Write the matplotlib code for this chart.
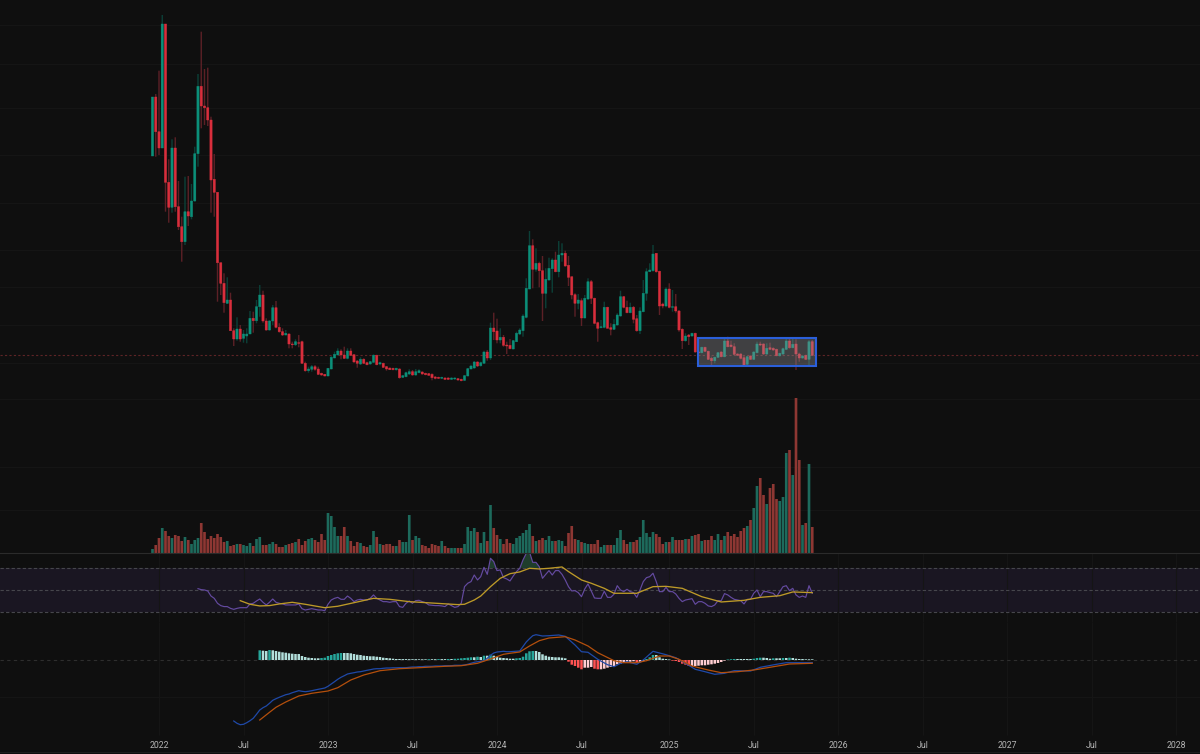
import numpy as np
import pandas as pd
import matplotlib
matplotlib.use('Agg')
import matplotlib.pyplot as plt
import matplotlib.dates as mdates
from matplotlib.patches import Rectangle

# weekly candles, price scale is unlabelled in the source so values are in chart units
opens = [244,303,268.3,252,376,217.7,192.7,252,193.3,173.3,158.3,188.3,183.3,199,246.3,313.7,294,292.3,280,220.7,
         207.7,137.3,116.7,96.7,100,69.3,61,71,61.7,64,66,81.7,79.3,93.3,105,79,70,79,92.3,72.7,
         68.3,65,66,56,55.3,57.3,58.3,36.7,29.3,30.7,33.3,31,26.7,25.7,24,31,42,45,49,45,
         41.7,49,45.3,39,36,40.7,37.3,36,37.7,44.7,36,36.7,33.3,32,31.7,30.3,31,22.7,23.3,26,
         28.3,25,27.3,28,26.7,26.3,25.7,23,22.7,21.7,22,22,20.7,21,21.3,20.7,19.7,24,31,32,
         38,34.3,36.7,48,42,72,69,60,62.7,55,54.7,51,58.3,66,69.3,82.7,111,154.3,130.7,136.7,
         129.3,106.7,120,131.3,140,128.3,145,146.7,134.7,123.3,105.3,96.7,99.3,82,101,118.3,101.7,77.3,72.3,72.7,
         92.7,72.3,70.7,75,84,103.3,92.7,87.3,92.7,81.3,69.3,88.3,106.7,128.3,129.3,146.7,128.7,96,94,111,
         92.7,93.3,89,70.7,59.3,65,64,66.7,48,47.3,52.7,48.7,41.7,39.3,42.7,48,43.3,59,55,53.3,
         46,46,42.3,35.7,44,40.7,47.3,56,56,46,52.3,51.7,50.7,44.3,46,50.7,59,52.3,56,46,
         42,44.7,40.7,58.3]
highs = [303,306,329.3,385,376,240.7,260.7,262.7,219,183.3,223.3,224,216,253.3,326,368.3,331,332.3,283.3,246,
         207.7,137.3,126.7,122.7,107.3,71.7,82.7,75,70,71.7,89,88.3,100,115,109.3,81.7,80,95,99,76.7,
         71.7,70,66.7,58.3,60.7,65,59.3,38.3,33.3,35,35,33.3,27.3,26,32,44,48.3,51.7,50.7,53.3,
         51.7,51.7,45.7,40,42.7,41.7,38.3,39,45.7,45.3,38.3,37.3,34,32.3,32.3,32.3,31.7,25,28.3,30.7,
         30,31,30.7,28.7,27.3,27,26.7,24,23.3,23.3,22.7,22.7,22.7,22.7,22,21.3,25,32,35.3,39,
         38.7,38.3,49.3,50,77.3,87.3,81.3,71.7,65,58.3,61,60,68.3,71.7,85.7,121.7,169,160.7,151.7,138.3,
         144,131.7,142.3,141.7,148.3,159,156.7,149.3,144,123.3,106.7,106,101.7,105,121.7,120,102.3,78.3,80,98.3,
         93.3,76.7,80.7,86.7,109.3,104,99.3,97.3,94,85,92.7,120,131.7,136.7,155,146.7,129.3,97.3,112.7,116.7,
         110,106,90,71.7,66.7,66,67.3,67.3,49,53.3,53.3,49.3,43.3,43.3,48,48.7,62.3,63.3,59.3,56.7,
         46.7,46.7,44,44,44.7,48.7,58.3,58.3,56.7,56.7,57.3,52.7,51.3,47.3,52.3,61.7,61.3,61.3,60.7,47.3,
         44.7,45.3,60,60]
lows = [244,243.3,245,252,188.3,177.3,187.3,188.3,170,138.3,155,174,180.7,198.3,233.3,271.7,275,274,187.3,183.3,
        98.3,105,87.3,96,69.3,54,59.3,58.3,57.3,56.7,66,67.3,76.7,83.3,77.3,69.3,69.3,75,71.7,67.3,
        64,64.7,51.7,51.7,54,52.7,36,28.3,27.3,28.3,29.3,25,24.3,23.7,23.7,30.7,41.7,44.7,40.7,41,
        40.7,44,37.3,32.3,35,36,34.7,35.3,37.3,34.7,34.7,32,29.3,30,29.7,29.3,21.3,22,22.7,25,
        24.3,24.3,26.7,25.3,24.7,24.3,19.7,20.7,21,21,20,20,20,20.3,19.3,18.7,19,23.7,30.7,31.3,
        33,33.3,36.3,39.3,40,60,56.7,56.7,53.3,46,50.7,50.7,58,65,63.3,81.7,110.7,111.7,128.3,112.7,
        79,91.7,119.3,107.3,127.7,122.7,138.3,133.3,114,100.7,83.3,90.7,74,81.7,100,96,75.7,58.3,71.7,71.7,
        71.7,64.7,70,74.3,83.3,91.7,86.7,86.7,76.7,68.3,66,87.7,99.3,128.3,128.3,127.3,85,91.7,92.7,91.7,
        88.3,87.3,68.3,51,58.3,55,63.3,47.3,46.7,46.7,48,40,35,36.7,42,42.7,42.7,52.7,52.7,45,
        44,40.7,34.3,35,40,40,46.7,54,45,45,50,49.3,43.7,43.3,45,50,51.3,51.7,30,38.3,
        41.3,40,33.3,44]
closes = [303,268.3,252,376,217.7,192.7,252,193.3,173.3,158.3,188.3,184,199,246.3,313.7,294,292.3,280,220,207.7,
          137.3,116.7,97.3,100,69.3,61,71,61,66,66,81.7,79.3,93.3,105,79,70,79,92.3,72.7,68.3,
          65,66.7,56,55.3,58.3,56.7,36.7,29.3,31,33.3,30.7,25.7,25,24,31.7,42.7,45.7,49,45,41.7,
          49,44.7,38,36.7,40.7,36.7,35.3,38.3,44.7,35.3,37.3,32.7,31,30.3,30.3,31.7,22.3,24.3,27.3,28.3,
          25,28.3,29.3,26,25.3,24.7,22.3,21.7,21.7,22.7,20.7,20.7,22,22,20,19.3,24.3,31.3,34,38,
          34,37.3,48,42,72,68.3,60,62.7,54.7,54,51.3,59.3,66.7,70,84,111.7,154.3,130.7,136.7,129.3,
          106.7,120.7,131.7,140,128.3,145,146.7,134,122.7,105,96.7,100,82,101.7,118.3,101.7,76.7,71.7,73.3,92.7,
          71.7,70.7,75.7,85,103.3,92.7,87.3,92.7,80.7,69.3,89,106.7,128.3,130,146,128.3,94,94,111,92.7,
          93.3,89,70,59.3,64,63.3,66.7,48,47.3,52.7,48.7,40.7,39.3,42.7,47.3,43.3,59,53.3,53.3,45.7,
          44.7,41.7,35,43.3,40.7,48,56,55,46,51.7,50.7,50,44.3,46.7,51.3,59,52.3,55.7,46,42,
          44,40.7,58.3,44.7]
volumes = [4,8,15,25,22,17,15,18,17,12,16,13,9,13,15,30,21,14,17,15,
           19,16,11,12,7,8,9,9,8,7,10,7,14,16,8,8,9,11,9,6,
           6,8,9,10,11,14,8,12,14,15,13,11,19,13,40,37,26,17,17,26,
           17,12,7,11,10,7,6,8,22,16,9,8,9,9,7,7,13,11,11,38,
           13,17,15,8,7,5,9,8,7,12,7,5,5,5,5,5,9,26,22,25,
           21,10,21,12,48,25,18,14,9,14,10,9,15,17,20,23,29,17,12,13,
           15,13,17,12,12,13,12,7,20,27,14,13,11,10,9,9,9,13,6,8,
           8,8,8,15,23,13,9,11,11,13,16,33,20,16,21,19,16,9,11,11,
           16,13,13,13,14,14,17,18,19,12,13,13,17,13,19,13,17,21,17,19,
           16,22,25,27,33,45,67,75,58,49,65,69,54,52,56,100,103,78,155,93,
           28,30,89,26]

# RSI starts at bar 14
rsi_values = [51.2,50.3,50,49.1,44.5,42.4,37.9,35.8,34.9,34.9,33.3,32.4,33.3,33.9,33.9,33.9,37.3,37.9,40,41.8,
              38.8,36.4,38.8,41.8,38.8,37.9,37.3,36.4,36.4,36.4,36.4,37.3,33,31.8,32.4,33,32.4,31.8,31.8,31.2,
              37,40.9,42.4,43.3,41.5,41.5,44.5,42.4,39.4,40.9,41.5,40.9,40.9,42.4,45.5,42.4,40.9,39.4,39.4,38.8,
              39.4,39.4,34.9,34.2,37.9,40,37.9,40.3,40.6,39.4,38.5,36.4,36.1,35.8,35.8,35.5,34.9,37.3,35.8,34.2,
              34.9,37.9,53,56.1,57.6,63.6,59.1,62.1,70.6,64.2,78.8,75.8,67.6,68.2,61.2,60,58.2,62.7,66.7,69.7,
              77.3,83.3,84.5,75.1,75.1,71.2,60.6,64.2,67.6,63.6,67.6,67.6,64.2,59.1,53,49.1,49.4,47.6,43.9,50.9,
              55.5,49.1,42.7,42.4,42.4,48.8,43.3,43.3,46.1,53.9,50,48.5,50.6,48.5,47.6,43.3,50,57.6,61.2,62.1,
              65.2,57.6,48.5,48.5,52.4,48.5,48.5,46.4,42.4,39.4,40.9,41.5,42.1,37,39.4,39.4,37.9,35.5,34.9,36.4,
              40.3,40.3,46.7,45.5,43.3,41.5,40.9,40.3,37.3,41.5,41.5,47,50,43.9,48.5,48.5,47.6,47,43.9,48.5,
              53,53.9,49.4,51.5,45.5,43.3,44.5,43.3,53.9,47]
rsi_start = 14
rsi_ma_bars = [27,30,33,36,39,43,47,53,57,63,68,73,79,84,89,94,96,99,101,104,107,110,113,116,119,122,126,128,132,135,
               139,142,149,154,158,163,169,175,182,187,193,197,203]
rsi_ma_values = [40.3,37,35.5,35.8,37.3,38.8,37,33.9,35.2,39.1,42.4,41.5,39.4,38.5,37.6,36.7,37,40.9,44.5,53,
                 60.6,64.8,66.4,69.7,69.1,69.7,70.9,66.7,59.1,56.1,51.5,47,47,53,53.3,51.5,43.9,39.1,40.6,43.3,
                 44.8,48.2,47.6]

# MACD line starts at bar 25, read bar by bar up to 109, then at the bends
macd_bars = list(range(25, 110)) + [110,113,115,116,117,118,120,122,125,127,130,132,134,137,140,142,144,146,149,151,
                                     154,156,158,161,164,167,170,173,176,179,184,187,192,195,199,203]
macd_values = [-61,-63.3,-64.7,-64.3,-62.7,-60.7,-58.3,-54.3,-50,-47.7,-46,-43.3,-40.3,-38.7,-37.3,-36,-34.7,-34,-32.7,-31.7,
               -30.7,-31.3,-31.7,-31.3,-30.7,-30,-29.3,-28.7,-28,-26.3,-24,-21.7,-19.3,-17.3,-15.7,-14,-13.3,-12.7,-12,-11.7,
               -11,-10.3,-9.7,-9,-8.7,-8.7,-8.3,-8,-8,-7.8,-7.8,-7.7,-7.7,-7.7,-7.3,-7,-7,-6.7,-6.7,-6.3,
               -6.3,-6.3,-6,-6,-6,-5.7,-5.7,-5.7,-5.3,-5.3,-5.3,-5,-4.3,-3.3,-2.3,-1.7,-1.3,-0.7,1.7,4.7,
               7,8,8.3,8.7,8.3,8.3,9,18,21.3,24.3,25.3,24,24.3,25,23.7,15,8.3,7.7,0.7,-4.7,
               -6.7,-3.3,-1.7,-4.3,0,8.7,7,5.3,2.3,-3.3,-9.3,-11.7,-14.3,-13.3,-10.7,-11,-7.3,-4.3,-2.7,-2.7,
               -2.7]
signal_bars = [33,36,38,41,45,49,54,57,61,65,70,76,82,90,95,100,104,108,110,113,116,119,122,127,130,134,137,142,145,149,
               152,156,159,162,166,171,175,180,185,190,196,203]
signal_values = [-60,-52.3,-47.3,-42,-36,-33.3,-31,-27.7,-20,-15,-10.7,-8.7,-7.7,-6.3,-5.7,-3.3,1,5.7,6.7,8,
                 14,19.3,22,23.3,20,14,7.3,-0.7,-2.7,-2.7,-0.7,4,4,0.7,-6,-10,-12.7,-11.7,-10,-7.3,
                 -4,-3.3]
# histogram starts at bar 33
hist_values = [9.7,9.3,9,10,9.7,9,8.3,7.7,7.3,6.7,6.3,6,6,4,3,2.3,2,1.7,1.7,2,
               2.3,4,5,6,6.7,7,7,7,6.7,6,5.3,5,4.3,4,3.7,3.7,3.3,3,2.3,2,
               1.7,1.3,1,1,.9,.9,.8,.8,.8,.7,.7,.7,.8,.8,.8,.9,.9,.9,1,1,
               1.2,1.3,1.7,2,2.3,2.7,2.7,3.3,3,4.3,4.3,5.3,4.3,3.3,2.3,2,1.7,1.3,1.3,1.7,
               2,3.3,6.7,8.7,9,9,8,5.7,4.3,3.3,3,2.7,2.7,2.3,1.7,-1.7,-4.7,-6,-7.7,-9.3,
               -7.7,-7.7,-7,-8.7,-9.3,-9.3,-8.7,-7.7,-7,-6,-4.3,-3.7,-2.7,-2.3,-1.7,-1.3,-3,-2.3,-1,1,
               2.7,5,5,2.7,1.3,1,.5,-.7,-1,-2,-3.7,-4.7,-6,-6,-6,-5.7,-5.3,-5.3,-4.7,-4.3,
               -3.7,-3,-2,-.7,.5,.8,1,1,1,1,1,1,1.3,2,2.3,2.3,2,1.3,1.7,1.7,
               1.7,2,2,2.3,2,1.3,1,1,.7,.7,.7]
hist_start = 33

tick_dates = ['2022-01-03','2022-07-04','2023-01-02','2023-07-03','2024-01-01','2024-07-01','2025-01-06',
              '2025-07-07','2026-01-05','2026-07-06','2027-01-04','2027-07-05','2028-01-03']
tick_labels = ['2022','Jul','2023','Jul','2024','Jul','2025','Jul','2026','Jul','2027','Jul','2028']
grid_prices = [375,336,292,245,197,150,113,75,37,1,-67,-110]
last_price = 45
range_box = ('2025-03-09', '2025-11-18', 34, 62.3)

BG = '#0f0f0f'
GRID = '#151515'
GREEN = '#0b8f79'
RED = '#d92e3c'
WICK_GREEN = '#0b4038'
WICK_RED = '#5c2026'
VOL_GREEN = '#1d6a5c'
VOL_RED = '#8e3733'

plt.rcParams['font.family'] = ['Roboto', 'DejaVu Sans']

dates = pd.date_range('2021-12-20', periods=len(opens), freq='7D')
x = mdates.date2num(dates)
px_day = 3.25 / 7
x_left = x[0] - 152.5 / px_day
x_right = x_left + 1200 / px_day
ticks = mdates.date2num(pd.to_datetime(tick_dates))

H = 754.0
fig = plt.figure(figsize=(12, 7.54), dpi=100, facecolor=BG)
ax_price = fig.add_axes([0, 1 - 553 / H, 1, 553 / H])
ax_vol = ax_price.twinx()
ax_rsi = fig.add_axes([0, 1 - 622 / H, 1, 69 / H])
ax_macd = fig.add_axes([0, 0, 1, 132 / H])

for ax in (ax_price, ax_vol, ax_rsi, ax_macd):
    ax.set_facecolor(BG)
    ax.set_xlim(x_left, x_right)
    ax.set_xticks(ticks)
    ax.set_yticks([])
    ax.tick_params(length=0, labelbottom=False, labelleft=False, labelright=False)
    for s in ax.spines.values():
        s.set_visible(False)


def no_snap(bars):
    # the reference is soft, snapped bars come out with uneven widths
    for b in bars:
        b.set_snap(False)


# volume axes at the back carries the grid, candles go on top
ax_price.set_ylim(-153, 400)
ax_vol.set_ylim(0, 553)
ax_vol.set_yticks(np.array(grid_prices) + 153)
ax_vol.grid(True, color=GRID, lw=0.8)
ax_vol.set_axisbelow(True)
ax_vol.set_zorder(1)
ax_price.set_zorder(2)
ax_price.patch.set_visible(False)
ax_vol.spines['bottom'].set_visible(True)
ax_vol.spines['bottom'].set_color('#2b2b2b')

up = np.array(closes) >= np.array(opens)
no_snap(ax_vol.bar(x, volumes, width=5.7, color=[VOL_GREEN if u else VOL_RED for u in up], linewidth=0))

ax_price.axhline(last_price, color='#5e2426', lw=0.8, ls=(0, (2, 2)), zorder=1)
wicks = ax_price.vlines(x, lows, highs, colors=[WICK_GREEN if u else WICK_RED for u in up], lw=1.0, zorder=2)
wicks.set_snap(False)
no_snap(ax_price.bar(x, np.array(closes) - np.array(opens), bottom=opens, width=4.8,
                     color=[GREEN if u else RED for u in up], edgecolor=[GREEN if u else RED for u in up],
                     linewidth=0.3, zorder=3))

bx0, bx1 = mdates.date2num(pd.to_datetime(range_box[0])), mdates.date2num(pd.to_datetime(range_box[1]))
ax_price.add_patch(Rectangle((bx0, range_box[2]), bx1 - bx0, range_box[3] - range_box[2],
                             facecolor=(0.6, 0.6, 0.62, 0.36), edgecolor='#2b5fd9', lw=1.5, zorder=4))

# RSI pane
ax_rsi.set_ylim(20.9, 83.6)
ax_rsi.grid(True, axis='x', color=GRID, lw=0.8)
ax_rsi.set_axisbelow(True)
ax_rsi.axhspan(30, 70, color='#1a1622', lw=0, zorder=0.5)
for lvl in (30, 50, 70):
    ax_rsi.axhline(lvl, color='#46464c', lw=0.8, ls=(0, (3, 2)), zorder=1)
rsi_x = x[rsi_start:rsi_start + len(rsi_values)]
rsi_arr = np.array(rsi_values)
ax_rsi.fill_between(rsi_x, 70, rsi_arr, where=rsi_arr >= 70, color='#1f3d2c', lw=0, interpolate=True, zorder=1.5)
ax_rsi.plot(rsi_x, rsi_values, color='#644aa0', lw=0.85, zorder=2)
ax_rsi.plot(x[rsi_ma_bars], rsi_ma_values, color='#bd9a28', lw=0.95, zorder=3)
ax_rsi.spines['bottom'].set_visible(True)
ax_rsi.spines['bottom'].set_color('#1e1e1e')

# MACD pane, vertical grid stops above the time strip
ax_macd.set_ylim(-94, 38)
ax_macd.vlines(ticks, -75, 38, colors=GRID, lw=0.8, zorder=0.4)
ax_macd.axhline(-37, color=GRID, lw=0.8, zorder=0.4)
ax_macd.axhline(-92, color='#1e1e1e', lw=0.8, zorder=0.4)
ax_macd.axhline(0, color='#2e2e2e', lw=0.8, ls=(0, (3, 3)), zorder=1)
colors = []
prev = 0
for v in hist_values:
    if v >= 0:
        colors.append('#26a69a' if v > prev else '#b2dfdb')
    else:
        colors.append('#ff5252' if v < prev else '#ffcdd2')
    prev = v
no_snap(ax_macd.bar(x[hist_start:hist_start + len(hist_values)], hist_values, width=5.4, color=colors, linewidth=0, zorder=2))
ax_macd.plot(x[macd_bars], macd_values, color='#1f49a8', lw=0.9, zorder=3)
ax_macd.plot(x[signal_bars], signal_values, color='#b44f0c', lw=0.9, zorder=4)
ax_macd.set_xticks(ticks)
ax_macd.set_xticklabels(tick_labels)
ax_macd.tick_params(axis='x', labelbottom=True, pad=-9.7, labelsize=6.3, labelcolor='#b4b4b4')

fig.savefig('out.png', dpi=100, facecolor=BG)
